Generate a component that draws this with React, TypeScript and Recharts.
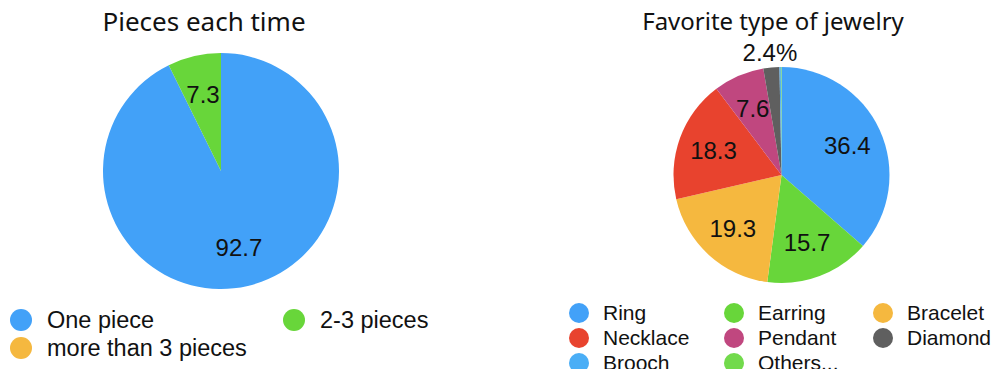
import { PieChart, Pie, Cell, Legend } from 'recharts';

const piecesNames = ['One piece', '2-3 pieces', 'more than 3 pieces'];
const piecesValues = [92.7, 7.3, 0];
const piecesColors = ['#42a1f8', '#68d63a', '#f5b83f'];

const jewelryNames = ['Ring', 'Earring', 'Bracelet', 'Necklace', 'Pendant', 'Diamond', 'Brooch', 'Others...'];
const jewelryValues = [36.4, 15.7, 19.3, 18.3, 7.6, 2.4, 0.2, 0.1];
const jewelryColors = ['#42a1f8', '#68d63a', '#f5b83f', '#e8432e', '#c0477f', '#5f5f5f', '#4aaef6', '#72da4c'];
// legend reads row by row
const jewelryLegendOrder = ['Ring', 'Earring', 'Bracelet', 'Necklace', 'Pendant', 'Diamond', 'Brooch', 'Others...'];

const RADIAN = Math.PI / 180;
const labelFont = '"Liberation Sans", Arial, sans-serif';
const titleFont = '"Noto Sans", sans-serif';
const noMargin = { top: 0, right: 0, bottom: 0, left: 0 };

const piecesData = piecesNames.map((name, i) => ({ name, value: piecesValues[i] }));
const jewelryData = jewelryNames.map((name, i) => ({ name, value: jewelryValues[i] }));

const renderInsideLabel = (outsideName?: string) => (props: any) => {
  const { cx, cy, midAngle, outerRadius, value, name } = props;
  if (!value || value < 1) return null;
  const outside = name === outsideName;
  const r = outside ? outerRadius + 15 : outerRadius * 0.67;
  const x = cx + r * Math.cos(-midAngle * RADIAN);
  const y = cy + r * Math.sin(-midAngle * RADIAN);
  return (
    <text
      x={x}
      y={y}
      fill="#111"
      textAnchor="middle"
      dominantBaseline="central"
      fontFamily={labelFont}
      fontSize={24}
    >
      {outside ? `${value}%` : value}
    </text>
  );
};

const LegendGrid = ({
  items,
  colors,
  colX,
  textOffset,
  rowH,
  dot,
  fontSize,
  cols,
}: {
  items: string[];
  colors: string[];
  colX: number[];
  textOffset: number;
  rowH: number;
  dot: number;
  fontSize: number;
  cols: number;
}) => (
  <div style={{ position: 'relative', width: '100%', height: rowH * Math.ceil(items.length / cols) }}>
    {items.map((name, i) => {
      const col = i % cols;
      const row = Math.floor(i / cols);
      return (
        <div key={name}>
          <div
            style={{
              position: 'absolute',
              left: colX[col] - dot / 2,
              top: row * rowH + rowH / 2 - dot / 2,
              width: dot,
              height: dot,
              borderRadius: '50%',
              background: colors[i],
            }}
          />
          <div
            style={{
              position: 'absolute',
              left: colX[col] + textOffset,
              top: row * rowH,
              height: rowH,
              lineHeight: `${rowH}px`,
              fontFamily: labelFont,
              fontSize,
              color: '#111',
              whiteSpace: 'nowrap',
            }}
          >
            {name}
          </div>
        </div>
      );
    })}
  </div>
);

export default function App() {
  const legendColors = jewelryLegendOrder.map((n) => jewelryColors[jewelryNames.indexOf(n)]);
  return (
    <div style={{ position: 'absolute', left: 0, top: 0, width: 997, height: 369, background: '#fff', overflow: 'hidden' }}>
      <div
        style={{
          position: 'absolute',
          left: 0,
          width: 408,
          top: 3,
          textAlign: 'center',
          fontFamily: titleFont,
          fontSize: 26,
          color: '#111',
        }}
      >
        Pieces each time
      </div>
      <div style={{ position: 'absolute', left: 0, top: 0 }}>
        <PieChart width={500} height={369} margin={noMargin}>
          <Pie
            data={piecesData}
            dataKey="value"
            nameKey="name"
            cx={221}
            cy={171}
            outerRadius={118}
            startAngle={90}
            endAngle={-270}
            stroke="none"
            label={renderInsideLabel()}
            labelLine={false}
            isAnimationActive={false}
          >
            {piecesData.map((d, i) => (
              <Cell key={d.name} fill={piecesColors[i]} />
            ))}
          </Pie>
          <Legend
            verticalAlign="bottom"
            wrapperStyle={{ left: 0, top: 306, width: 500 }}
            content={() => (
              <LegendGrid
                items={piecesNames}
                colors={piecesColors}
                colX={[21, 294]}
                textOffset={26}
                rowH={28}
                dot={22}
                fontSize={23.5}
                cols={2}
              />
            )}
          />
        </PieChart>
      </div>
      <div
        style={{
          position: 'absolute',
          left: 550,
          width: 446,
          top: 4,
          textAlign: 'center',
          fontFamily: titleFont,
          fontSize: 24,
          color: '#111',
        }}
      >
        Favorite type of jewelry
      </div>
      <div style={{ position: 'absolute', left: 550, top: 0 }}>
        <PieChart width={447} height={369} margin={noMargin}>
          <Pie
            data={jewelryData}
            dataKey="value"
            nameKey="name"
            cx={231.5}
            cy={175}
            outerRadius={108}
            startAngle={90}
            endAngle={-270}
            stroke="none"
            label={renderInsideLabel('Diamond')}
            labelLine={false}
            isAnimationActive={false}
          >
            {jewelryData.map((d, i) => (
              <Cell key={d.name} fill={jewelryColors[i]} />
            ))}
          </Pie>
          <Legend
            verticalAlign="bottom"
            wrapperStyle={{ left: 0, top: 300, width: 447 }}
            content={() => (
              <LegendGrid
                items={jewelryLegendOrder}
                colors={legendColors}
                colX={[29, 184, 333]}
                textOffset={24}
                rowH={25}
                dot={20}
                fontSize={21}
                cols={3}
              />
            )}
          />
        </PieChart>
      </div>
    </div>
  );
}
